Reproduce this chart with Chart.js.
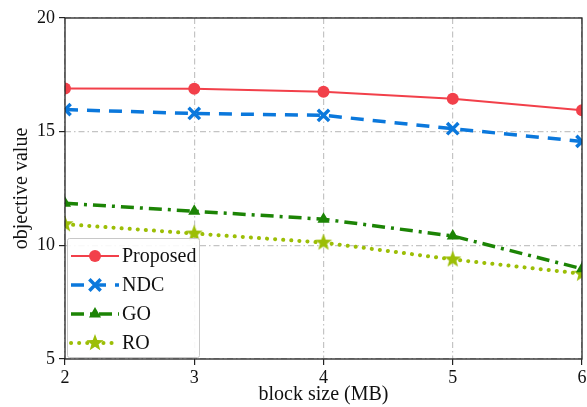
<!DOCTYPE html>
<html>
<head>
<meta charset="utf-8">
<script src="https://cdn.jsdelivr.net/npm/chart.js@4"></script>
<style>
  html, body { margin: 0; padding: 0; background: #fff; }
  #wrap { width: 587px; height: 407px; }
</style>
</head>
<body>
<div id="wrap"><canvas id="c" width="587" height="407"></canvas></div>
<script>
// Block sizes (MB) on the x axis
const blockSizes = [2, 3, 4, 5, 6];
// Objective value of each scheme
const proposed = [16.90, 16.89, 16.76, 16.45, 15.94];
const ndc      = [15.97, 15.80, 15.72, 15.13, 14.57];
const go       = [11.85, 11.50, 11.15, 10.41, 8.97];
const ro       = [10.93, 10.52, 10.12, 9.38, 8.75];
const seriesNames = ['Proposed', 'NDC', 'GO', 'RO'];
const yTicks = [5, 10, 15, 20];

const SERIF = '"Liberation Serif", "DejaVu Serif", serif';

function starImage(color, r) {
  const s = Math.ceil(r * 2 + 2);
  const cv = document.createElement('canvas');
  cv.width = s; cv.height = s;
  const g = cv.getContext('2d');
  const cx = s / 2, cy = s / 2;
  g.beginPath();
  for (let i = 0; i < 10; i++) {
    const rad = i % 2 === 0 ? r : r * 0.42;
    const a = -Math.PI / 2 + i * Math.PI / 5;
    const px = cx + rad * Math.cos(a), py = cy + rad * Math.sin(a);
    if (i === 0) g.moveTo(px, py); else g.lineTo(px, py);
  }
  g.closePath();
  g.fillStyle = color;
  g.fill();
  return cv;
}

const C_RED = '#f2404a';
const C_BLUE = '#0b78dc';
const C_GREEN = '#1c8405';
const C_LIME = '#9cbe06';

function pts(ys) { return blockSizes.map((x, i) => ({ x: x, y: ys[i] })); }

const datasets = [
  { label: seriesNames[0], data: pts(proposed), borderColor: C_RED, backgroundColor: C_RED,
    borderWidth: 2, pointStyle: 'circle', pointRadius: 6, pointBorderWidth: 0 },
  { label: seriesNames[1], data: pts(ndc), borderColor: C_BLUE, backgroundColor: C_BLUE,
    borderWidth: 3.5, borderDash: [13, 9], pointStyle: 'crossRot', pointRadius: 8, pointBorderWidth: 3.5 },
  { label: seriesNames[2], data: pts(go), borderColor: C_GREEN, backgroundColor: C_GREEN,
    borderWidth: 3.5, borderDash: [13, 6, 3, 6], pointStyle: 'triangle', pointRadius: 7, pointBorderWidth: 0 },
  { label: seriesNames[3], data: pts(ro), borderColor: C_LIME, backgroundColor: C_LIME,
    borderWidth: 4, borderDash: [0.1, 8], borderCapStyle: 'round',
    pointStyle: starImage(C_LIME, 9), pointRadius: 8, pointBorderWidth: 0 }
];
datasets.forEach(d => { d.tension = 0; d.fill = false; d.pointHoverRadius = d.pointRadius; });

// Frame around the plotting area
const frame = {
  id: 'frame',
  afterDatasetsDraw(chart) {
    const a = chart.chartArea, ctx = chart.ctx;
    ctx.save();
    ctx.strokeStyle = '#222';
    ctx.lineWidth = 1.3;
    ctx.strokeRect(a.left, a.top, a.right - a.left, a.bottom - a.top);
    ctx.restore();
  }
};

// Legend box in the lower-left corner of the plot
const insetLegend = {
  id: 'insetLegend',
  afterDraw(chart) {
    const ctx = chart.ctx, a = chart.chartArea;
    const x0 = a.left + 2, y0 = 238, w = 132, h = 119;
    ctx.save();
    ctx.fillStyle = 'rgba(255,255,255,0.9)';
    ctx.strokeStyle = '#c8c8c8';
    ctx.lineWidth = 1;
    ctx.beginPath();
    ctx.roundRect(x0 + 0.5, y0 + 0.5, w, h, 2);
    ctx.fill();
    ctx.stroke();
    chart.data.datasets.forEach((d, i) => {
      const cy = y0 + 18 + i * 29;
      ctx.save();
      ctx.strokeStyle = d.borderColor;
      ctx.lineWidth = d.borderWidth;
      ctx.setLineDash(d.borderDash || []);
      ctx.lineCap = d.borderCapStyle || 'butt';
      ctx.beginPath();
      ctx.moveTo(x0 + 4, cy);
      ctx.lineTo(x0 + 52, cy);
      ctx.stroke();
      ctx.restore();
      ctx.save();
      ctx.fillStyle = d.backgroundColor;
      ctx.strokeStyle = d.borderColor;
      ctx.lineWidth = d.pointBorderWidth;
      ctx.setLineDash([]);
      Chart.helpers.drawPoint(ctx, {
        pointStyle: d.pointStyle, radius: d.pointRadius, rotation: 0,
        borderWidth: d.pointBorderWidth
      }, x0 + 28, cy);
      ctx.restore();
      ctx.fillStyle = '#111';
      ctx.font = '20px ' + SERIF;
      ctx.textBaseline = 'middle';
      ctx.textAlign = 'left';
      ctx.fillText(d.label, x0 + 55, cy + 1);
    });
    ctx.restore();
  }
};

Chart.defaults.font.family = SERIF;
Chart.defaults.color = '#111';

new Chart(document.getElementById('c'), {
  type: 'line',
  data: { datasets },
  options: {
    responsive: false,
    animation: false,
    events: [],
    layout: { autoPadding: false, padding: { top: 18, right: 5, left: 0, bottom: 0 } },
    plugins: { legend: { display: false }, tooltip: { enabled: false } },
    scales: {
      x: {
        type: 'linear', min: 2, max: 6,
        ticks: { stepSize: 1, font: { size: 18 }, padding: 2, color: '#111' },
        grid: { color: '#c4c4c4', lineWidth: 1.2, tickColor: '#222', tickLength: 6, tickWidth: 1.2, tickBorderDash: [] },
        border: { display: false, dash: [6, 3, 1.5, 3] },
        title: { display: true, text: 'block size (MB)', font: { size: 20 }, padding: { top: 0, bottom: 0 }, color: '#111' },
        afterFit(s) { s.height = 48; s.paddingRight = 0; s.paddingLeft = 0; }
      },
      y: {
        min: 5, max: 20,
        afterBuildTicks(s) { s.ticks = yTicks.map(v => ({ value: v })); },
        ticks: { font: { size: 18 }, padding: 4, color: '#111' },
        grid: { color: '#c4c4c4', lineWidth: 1.2, tickColor: '#222', tickLength: 6, tickWidth: 1.2, tickBorderDash: [] },
        border: { display: false, dash: [6, 3, 1.5, 3] },
        title: { display: true, text: 'objective value', font: { size: 20 }, padding: { top: 10, bottom: 0 }, color: '#111' },
        afterFit(s) { s.width = 65; s.paddingTop = 0; s.paddingBottom = 0; }
      }
    }
  },
  plugins: [frame, insetLegend]
});
</script>
</body>
</html>
